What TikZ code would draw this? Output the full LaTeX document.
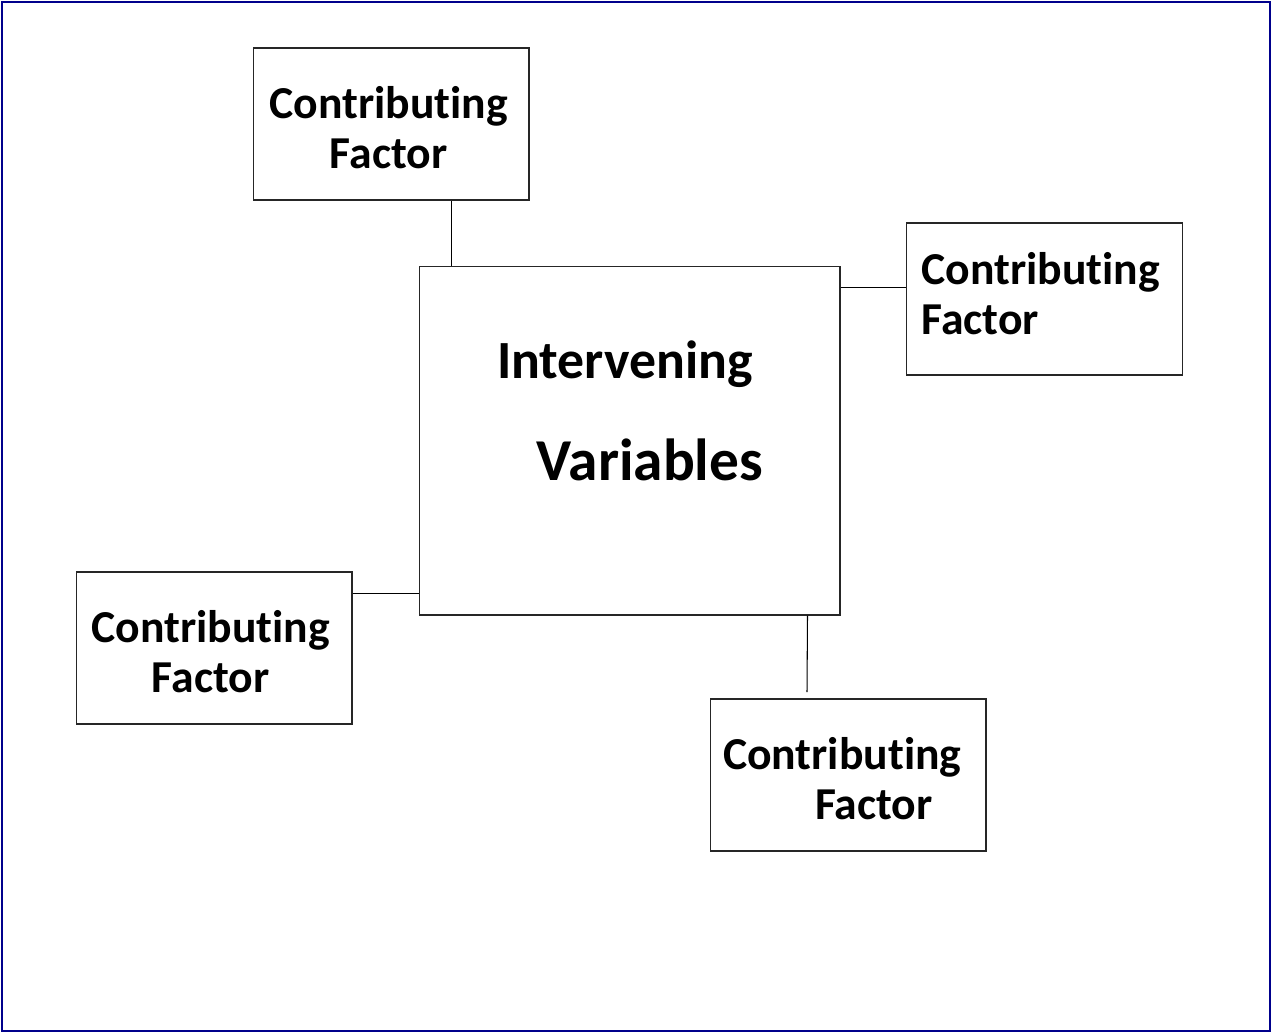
\documentclass[tikz,border=0pt]{standalone}
\usepackage{fontspec}
\setmainfont{Carlito}[Ligatures=NoCommon]
\usepackage{xcolor}
\definecolor{framenavy}{RGB}{0,0,140}

\tikzset{
  factorbox/.style={draw=black!85, line width=0.6pt, minimum width=5.52cm,
    minimum height=3.04cm, inner sep=0pt},
  factortext/.style={inner sep=0pt, font=\bfseries\fontsize{26}{28.5}\selectfont},
  mainbox/.style={draw=black!85, line width=0.6pt, minimum width=8.42cm,
    minimum height=6.98cm, inner sep=0pt},
  maintext/.style={anchor=base, inner sep=0pt, font=\bfseries},
  link/.style={draw=black, line width=0.6pt}
}

\begin{document}
\begin{tikzpicture}[x=0.02cm, y=-0.02cm]
  % Page size and outer frame
  \useasboundingbox (0,0) rectangle (1273,1034);
  \draw[framenavy, line width=1.6pt] (2,2) rectangle (1270,1031);

  % The central box and its text
  \node[mainbox] (main) at (629.5,440.5) {};
  \node[maintext, font=\bfseries\fontsize{30.6}{34}\selectfont] (intv) at (625,378) {Intervening};
  \node[maintext, font=\bfseries\fontsize{33.8}{37}\selectfont] (vars) at (650,480) {Variables};

  % Contributing factors
  \node[factorbox] (cftop) at (391,124) {};
  \node[factorbox] (cfright) at (1044.5,299) {};
  \node[factorbox] (cfleft) at (214,648) {};
  \node[factorbox] (cfbottom) at (848,775) {};

  \node[factortext, align=center] (cftoptext) at ([xshift=-0.05cm, yshift=-0.08cm]cftop.center) {Contributing\\Factor};
  \node[factortext, align=left, text width=4.92cm] (cfrighttext) at ([yshift=0.11cm]cfright.center) {Contributing\\Factor};
  \node[factortext, align=center] (cflefttext) at ([xshift=-0.07cm, yshift=-0.08cm]cfleft.center) {Contributing\\Factor};
  \node[factortext, align=left, text width=5.2cm] (cfbottomtext) at ([xshift=0.1cm, yshift=-0.08cm]cfbottom.center) {Contributing\\\hspace*{1.84cm}Factor};

  % Connectors
  \coordinate (gap) at (807,692);
  \draw[link] ([xshift=0.66cm]main.north west) -- ([xshift=0.66cm]main.north west |- cftop.south);
  \draw[link] ([yshift=-0.44cm]main.north east) -- ([yshift=-0.44cm]main.north east -| cfright.west);
  \draw[link] ([yshift=0.44cm]main.south west) -- ([yshift=0.44cm]main.south west -| cfleft.east);
  \draw[link] ([xshift=-0.66cm]main.south east) -- (gap);
\end{tikzpicture}
\end{document}
